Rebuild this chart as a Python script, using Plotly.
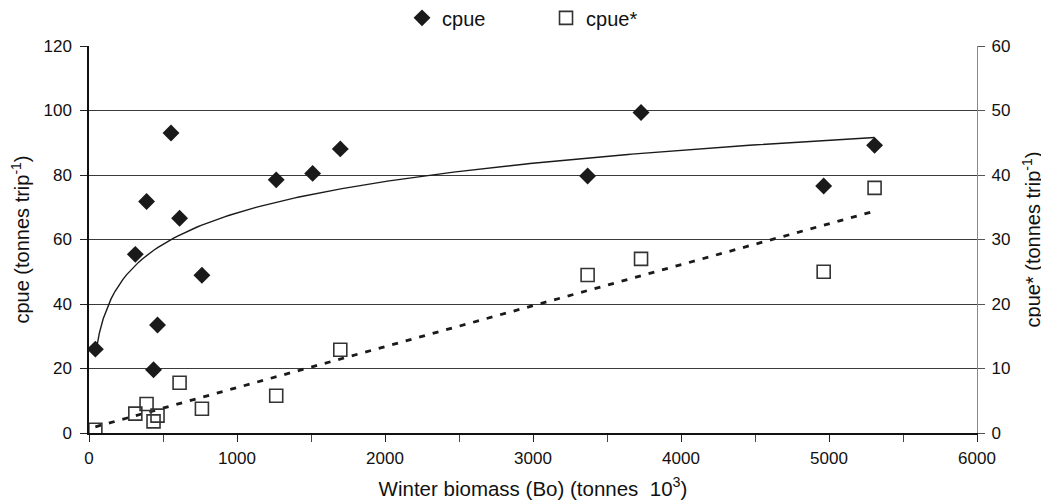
import numpy as np
import plotly.graph_objects as go

# Data
biomass = [43, 313, 389, 436, 463, 554, 612, 763, 1265, 1511, 1698, 3369, 3730, 4964, 5308]
cpue = [26.0, 55.4, 71.8, 19.6, 33.5, 93.0, 66.6, 48.9, 78.5, 80.5, 88.1, 79.7, 99.4, 76.6, 89.2]
cpue_star = [0.5, 3.0, 4.5, 1.8, 2.7, None, 7.8, 3.76, 5.77, None, 12.9, 24.5, 27.0, 25.0, 38.0]

x_ticks = [0, 1000, 2000, 3000, 4000, 5000, 6000]
y_left_ticks = [0, 20, 40, 60, 80, 100, 120]
y_right_ticks = [0, 10, 20, 30, 40, 50, 60]

# Trendlines computed from data (log fit for cpue, linear fit for cpue*)
xb = np.array(biomass, dtype=float)
yc = np.array(cpue, dtype=float)
b, a = np.polyfit(np.log(xb), yc, 1)
xs = np.linspace(xb.min(), xb.max(), 200)
log_fit = a + b * np.log(xs)

mask = np.array([v is not None for v in cpue_star])
xs2 = xb[mask]
ys2 = np.array([v for v in cpue_star if v is not None], dtype=float)
m, c = np.polyfit(xs2, ys2, 1)
xl = np.array([xs2.min(), xs2.max()])
lin_fit = m * xl + c

font = "Liberation Sans"

fig = go.Figure()
fig.add_trace(go.Scatter(x=xs, y=log_fit, mode="lines", line=dict(color="#1a1a1a", width=1.4),
                         showlegend=False, hoverinfo="skip"))
fig.add_trace(go.Scatter(x=xl, y=lin_fit, mode="lines", yaxis="y2",
                         line=dict(color="#1a1a1a", width=2.8, dash="6px,8px"),
                         showlegend=False, hoverinfo="skip"))
fig.add_trace(go.Scatter(x=biomass, y=cpue, mode="markers", name="cpue",
                         marker=dict(symbol="diamond", size=13, color="#1a1a1a",
                                     line=dict(width=0))))
fig.add_trace(go.Scatter(x=biomass, y=cpue_star, mode="markers", name="cpue*", yaxis="y2",
                         marker=dict(symbol="square-open", size=13, color="#333333",
                                     line=dict(width=1.6, color="#333333"))))

fig.update_layout(
    width=1041, height=492,
    margin=dict(l=81, r=72, t=38, b=67, autoexpand=False),
    paper_bgcolor="white", plot_bgcolor="white",
    font=dict(family=font, size=17, color="#111111"),
    legend=dict(orientation="h", xref="container", x=0.3785, xanchor="left",
                yref="container", y=0.98, yanchor="middle",
                font=dict(size=20), entrywidth=99, entrywidthmode="pixels",
                bgcolor="rgba(0,0,0,0)"),
    xaxis=dict(range=[0, 6000], tickvals=x_ticks, ticks="outside", ticklen=7,
               tickcolor="#222", showline=True, linecolor="#111", linewidth=1.5,
               showgrid=False, zeroline=False, automargin=False,
               tickfont=dict(size=17), ticklabelstandoff=2,
               minor=dict(dtick=500, tick0=0, ticks="outside", ticklen=7, tickcolor="#444",
                          showgrid=False),
               title=dict(text="Winter biomass (Bo) (tonnes\u00a0\u00a010<sup>3</sup>)",
                          standoff=14, font=dict(size=20.5))),
    yaxis=dict(range=[0, 120], tickvals=y_left_ticks, ticks="outside", ticklen=7,
               tickcolor="#222", showline=True, linecolor="#111", linewidth=1.5,
               showgrid=True, gridcolor="#3a3a3a", gridwidth=1, zeroline=False,
               automargin=False, tickfont=dict(size=17), ticklabelstandoff=5,
               title=dict(text="cpue (tonnes trip<sup>-1</sup>)", standoff=16,
                          font=dict(size=20))),
    yaxis2=dict(range=[0, 60], tickvals=y_right_ticks, overlaying="y", side="right",
                ticks="outside", ticklen=7, tickcolor="#555", showline=True,
                linecolor="#888", linewidth=1.2, showgrid=False, zeroline=False,
                automargin=False, tickfont=dict(size=17), ticklabelstandoff=3,
                title=dict(text="cpue* (tonnes trip<sup>-1</sup>)", standoff=16,
                           font=dict(size=20))),
)

fig.write_html("out.html")
